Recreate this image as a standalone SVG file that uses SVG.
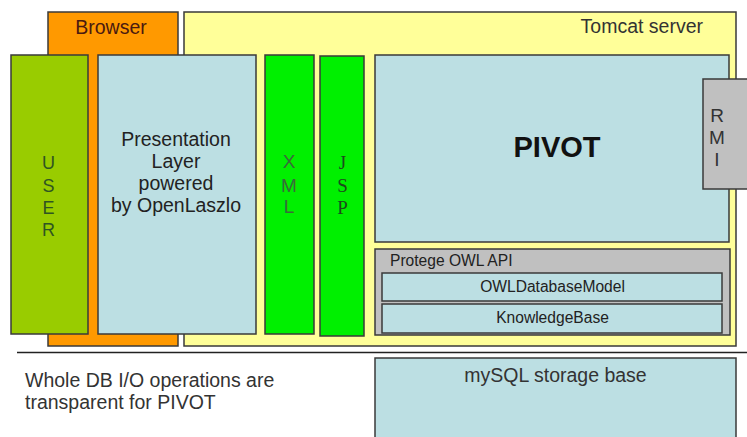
<svg xmlns="http://www.w3.org/2000/svg" width="747" height="437" viewBox="0 0 747 437">
<style>
rect{stroke:#3a3a3a;stroke-width:1.5}
text{font-family:"Liberation Sans",Arial,sans-serif;fill:#222}
.blue{fill:#bcdfe3}
.gray{fill:#c0c0c0}
.green{fill:#00f000}
.c{text-anchor:middle}
.big{font-size:19.5px}
.small{font-size:15.6px}
.ul{fill:#2f5522;font-size:18px}
.xl{font-family:"Liberation Sans",sans-serif;fill:#3a6a3a;font-size:19px}
.jl{font-family:"Liberation Serif",serif;fill:#1d4a1d;font-size:19px}
.rl{fill:#333;font-size:19px}
</style>
<rect x="0" y="0" width="747" height="437" fill="#fff" style="stroke:none"/>
<g id="browser">
<rect x="48" y="12" width="130" height="334" fill="#ff9900"/>
<text x="111" y="34" class="c big" style="fill:#4a1a10">Browser</text>
</g>
<g id="tomcat">
<rect x="184" y="12" width="552" height="334" fill="#ffff99"/>
<text x="703" y="33" class="big" text-anchor="end" style="fill:#333">Tomcat server</text>
</g>
<g id="user">
<rect x="11" y="55" width="77" height="279" fill="#99cc00"/>
<text x="48.5" y="169" class="c ul">U</text>
<text x="48.5" y="192" class="c ul">S</text>
<text x="48.5" y="214" class="c ul">E</text>
<text x="48.5" y="236" class="c ul">R</text>
</g>
<g id="presentation">
<rect x="98" y="55" width="158" height="279" class="blue"/>
<text x="176" y="146" class="c big">Presentation</text>
<text x="176" y="168" class="c big">Layer</text>
<text x="176" y="190" class="c big">powered</text>
<text x="176" y="212" class="c big">by OpenLaszlo</text>
</g>
<g id="xml">
<rect x="265" y="55" width="49" height="279" class="green"/>
<text x="289" y="168" class="c xl">X</text>
<text x="289" y="192" class="c xl">M</text>
<text x="289" y="213" class="c xl">L</text>
</g>
<g id="jsp">
<rect x="320" y="56" width="44" height="280" class="green"/>
<text x="342.5" y="169" class="c jl">J</text>
<text x="342.5" y="192" class="c jl">S</text>
<text x="342.5" y="214" class="c jl">P</text>
</g>
<g id="pivot">
<rect x="375" y="55" width="354" height="187" class="blue"/>
<text x="557" y="157" font-size="29" font-weight="bold" class="c" style="fill:#111">PIVOT</text>
</g>
<g id="rmi">
<rect x="703" y="79" width="46" height="110" class="gray"/>
<text x="717" y="122" class="c rl">R</text>
<text x="717" y="144" class="c rl">M</text>
<text x="717" y="166" class="c rl">I</text>
</g>
<g id="protege">
<rect x="375" y="249" width="355" height="86" class="gray"/>
<text x="390" y="266" class="small">Protege OWL API</text>
</g>
<g id="owldatabasemodel">
<rect x="382" y="273" width="340" height="28" class="blue"/>
<text x="552.5" y="292" class="c small">OWLDatabaseModel</text>
</g>
<g id="knowledgebase">
<rect x="382" y="304" width="340" height="29" class="blue"/>
<text x="552.5" y="323" class="c small">KnowledgeBase</text>
</g>
<g id="connectors">
<line x1="17" y1="352.5" x2="747" y2="352.5" stroke="#222" stroke-width="1.5"/>
</g>
<g id="mysql">
<rect x="375" y="358" width="361" height="90" class="blue"/>
<text x="555.5" y="382" class="c big" style="fill:#333">mySQL storage base</text>
</g>
<g id="note">
<text x="25" y="387" class="big" style="fill:#333">Whole DB I/O operations are</text>
<text x="25" y="409" class="big" style="fill:#333">transparent for PIVOT</text>
</g>
</svg>
